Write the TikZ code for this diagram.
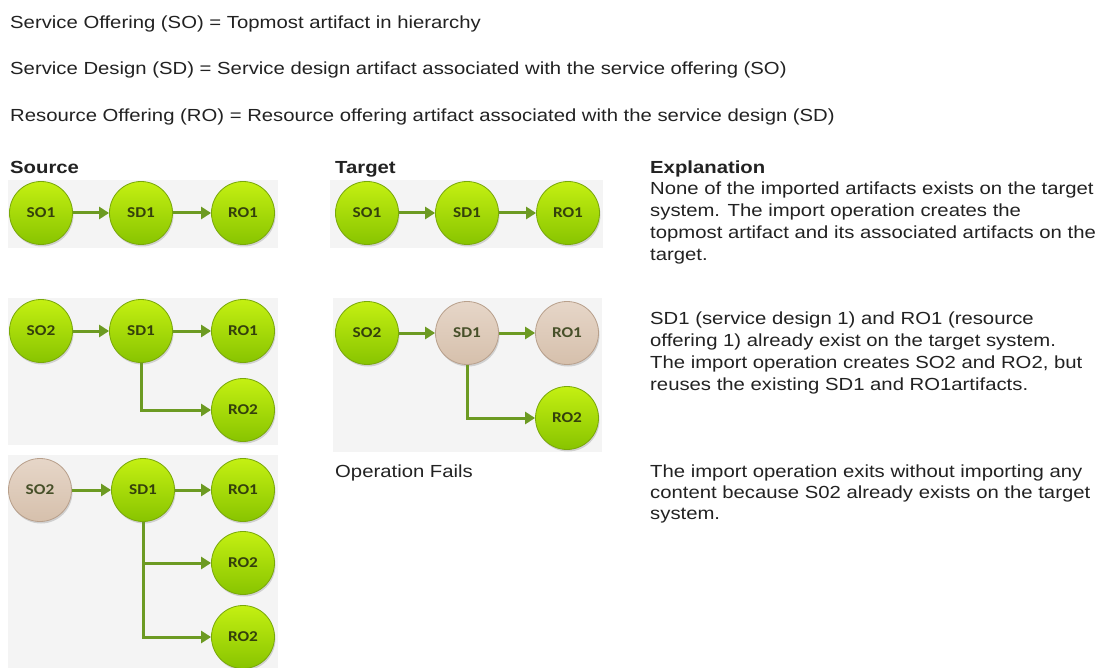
\documentclass[tikz,border=0pt]{standalone}
\usepackage{fontspec}
\setmainfont{Liberation Sans}
\newfontfamily\circfont{Carlito}
\usetikzlibrary{arrows.meta,shadows}
\definecolor{gtop}{HTML}{C4F012}
\definecolor{gbot}{HTML}{88C400}
\definecolor{gbord}{HTML}{79A80A}
\definecolor{ttop}{HTML}{E6D6C8}
\definecolor{tbot}{HTML}{D6C0AC}
\definecolor{tbord}{HTML}{B8A08C}
\definecolor{arr}{HTML}{6C9A22}
\definecolor{lab}{HTML}{34400C}
\definecolor{panel}{HTML}{F4F4F4}
\definecolor{txt}{HTML}{222222}
\newcommand{\wtxt}[1]{\scalebox{1.16}[1]{#1}}
\tikzset{
  body/.style={anchor=base west,inner sep=0pt,text=txt,font=\fontsize{17.5}{21}\selectfont},
  head/.style={anchor=base west,inner sep=0pt,text=txt,font=\fontsize{17.5}{21}\selectfont\bfseries},
  gball/.style={circle,minimum size=63pt,inner sep=0pt,top color=gtop,bottom color=gbot,draw=gbord,line width=0.8pt,
     drop shadow={shadow xshift=1pt,shadow yshift=-2pt,opacity=0.25,fill=black!60},text=lab,font=\circfont\bfseries\fontsize{15}{15}\selectfont},
  tball/.style={gball,top color=ttop,bottom color=tbot,draw=tbord,text=lab!75!gray},
  link/.style={draw=arr,line width=3pt,-{Triangle[length=10pt,width=12pt]}},
  panelbox/.style={fill=panel,draw=none}
}
\newcommand{\cl}[1]{\scalebox{1.15}[1]{#1}}
\begin{document}
\begin{tikzpicture}[x=1pt,y=-1pt]
\useasboundingbox (0,0) rectangle (1097,668);
\fill[white] (0,0) rectangle (1097,668);
% header lines
\node[body] (l1) at (10,29) {\wtxt{Service Offering (SO) = Topmost artifact in hierarchy}};
\node[body] (l2) at (10,75) {\wtxt{Service Design (SD) = Service design artifact associated with the service offering (SO)}};
\node[body] (l3) at (10,122) {\wtxt{Resource Offering (RO) = Resource offering artifact associated with the service design (SD)}};
% column heads
\node[head] (hs) at (10,174) {\wtxt{Source}};
\node[head] (ht) at (335,174) {\wtxt{Target}};
\node[head] (he) at (650,174) {\wtxt{Explanation}};
% panels
\fill[panelbox] (8,180) rectangle (278,248);
\fill[panelbox] (330,180) rectangle (603,248);
\fill[panelbox] (8,298) rectangle (278,445);
\fill[panelbox] (333,298) rectangle (602,452);
\fill[panelbox] (8,455) rectangle (278,668);
% row 1 source
\node[gball] (a1) at (41,213) {\cl{SO1}};
\node[gball] (a2) at (141,213) {\cl{SD1}};
\node[gball] (a3) at (243,213) {\cl{RO1}};
\draw[link] (a1) -- (a2);
\draw[link] (a2) -- (a3);
% row 1 target
\node[gball] (b1) at (367,213) {\cl{SO1}};
\node[gball] (b2) at (467,213) {\cl{SD1}};
\node[gball] (b3) at (568,213) {\cl{RO1}};
\draw[link] (b1) -- (b2);
\draw[link] (b2) -- (b3);
% row 2 source
\node[gball] (c1) at (41,331) {\cl{SO2}};
\node[gball] (c2) at (141,331) {\cl{SD1}};
\node[gball] (c3) at (243,331) {\cl{RO1}};
\node[gball] (c4) at (243,410) {\cl{RO2}};
\draw[link] (c1) -- (c2);
\draw[link] (c2) -- (c3);
\draw[link] (c2.south) |- (c4.west);
% row 2 target
\node[gball] (d1) at (367,333) {\cl{SO2}};
\node[tball] (d2) at (467,333) {\cl{SD1}};
\node[tball] (d3) at (567,333) {\cl{RO1}};
\node[gball] (d4) at (567,418) {\cl{RO2}};
\draw[link] (d1) -- (d2);
\draw[link] (d2) -- (d3);
\draw[link] (d2.south) |- (d4.west);
% row 3 source
\node[tball] (e1) at (40,490) {\cl{SO2}};
\node[gball] (e2) at (143,490) {\cl{SD1}};
\node[gball] (e3) at (243,490) {\cl{RO1}};
\node[gball] (e4) at (243,563) {\cl{RO2}};
\node[gball] (e5) at (243,637) {\cl{RO2}};
\draw[link] (e1) -- (e2);
\draw[link] (e2) -- (e3);
\draw[link] (e2.south) |- (e4.west);
\draw[link] (e2.south) |- (e5.west);
% operation fails
\node[body] (of) at (335,477) {\wtxt{Operation Fails}};
% explanations
\node[body] (x1) at (650,195) {\wtxt{None of the imported artifacts exists on the target}};
\node[body] (x2) at (650,217) {\wtxt{system. The import operation creates the}};
\node[body] (x3) at (650,239) {\wtxt{topmost artifact and its associated artifacts on the}};
\node[body] (x4) at (650,261) {\wtxt{target.}};
\node[body] (y1) at (650,324) {\wtxt{SD1 (service design 1) and RO1 (resource}};
\node[body] (y2) at (650,346) {\wtxt{offering 1) already exist on the target system.}};
\node[body] (y3) at (650,368) {\wtxt{The import operation creates SO2 and RO2, but}};
\node[body] (y4) at (650,390) {\wtxt{reuses the existing SD1 and RO1artifacts.}};
\node[body] (z1) at (650,477) {\wtxt{The import operation exits without importing any}};
\node[body] (z2) at (650,498) {\wtxt{content because S02 already exists on the target}};
\node[body] (z3) at (650,519) {\wtxt{system.}};
\end{tikzpicture}
\end{document}
